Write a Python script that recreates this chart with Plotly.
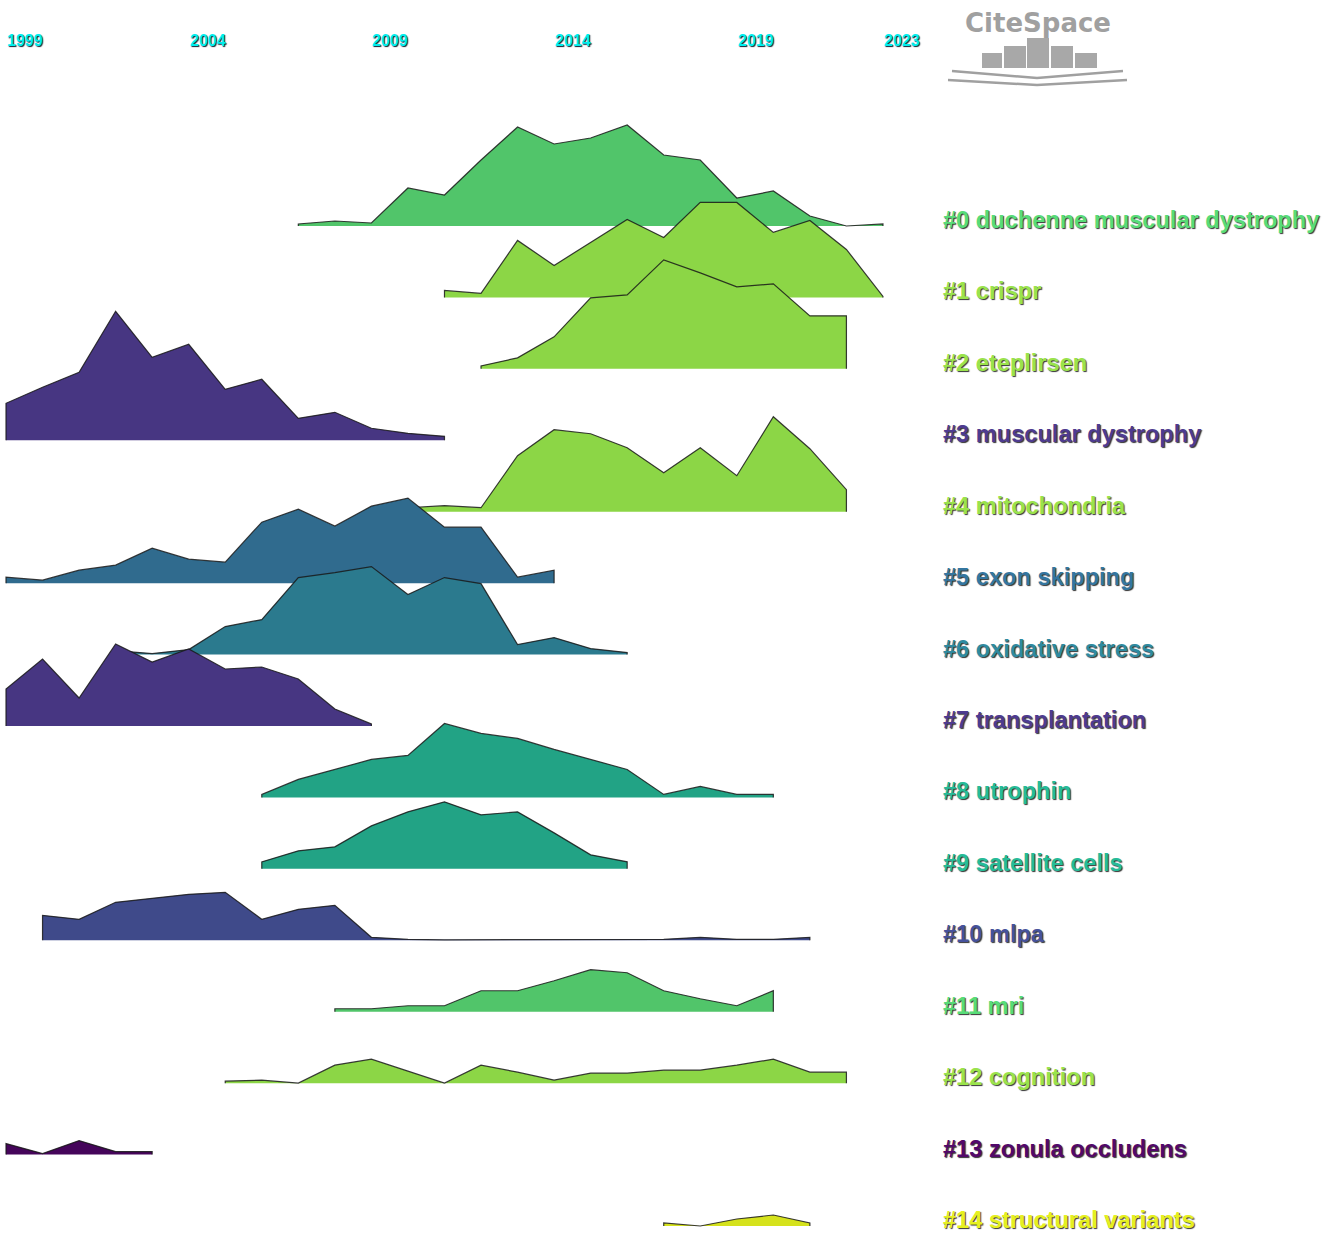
import plotly.graph_objects as go

W, H = 1332, 1235

# cluster labels (CiteSpace timeline view)
labels = ["#0 duchenne muscular dystrophy", "#1 crispr", "#2 eteplirsen",
          "#3 muscular dystrophy", "#4 mitochondria", "#5 exon skipping",
          "#6 oxidative stress", "#7 transplantation", "#8 utrophin",
          "#9 satellite cells", "#10 mlpa", "#11 mri", "#12 cognition",
          "#13 zonula occludens", "#14 structural variants"]
colors = ["#51c56a", "#8cd646", "#8cd646", "#473682", "#8cd646", "#306b8e",
          "#2b7a8e", "#473682", "#22a385", "#22a385", "#3f4a8a", "#51c56a",
          "#8cd646", "#45055a", "#d5e21c"]
label_colors = ["#58dc78", "#9ae34c", "#9ae34c", "#4e3b90", "#9ae34c", "#3476a0",
                "#2f8aa0", "#4e3b90", "#26bb98", "#26bb98", "#46529c", "#58dc78",
                "#9ae34c", "#52086a", "#e6f020"]

# first year of each ridge, then yearly values
start_years = [2007, 2011, 2012, 1999, 2010, 1999, 2002, 1999, 2006, 2006,
               2000, 2008, 2005, 1999, 2017]
v0 = [2, 5, 3, 38, 31, 66, 99, 82, 88, 101, 71, 66, 28, 35, 10, 0, 2]
v1 = [7, 4, 57, 32, 55, 78, 60, 95, 95, 65, 77, 48, 1]
v2 = [3, 11, 32, 71, 74, 109, 96, 82, 85, 53, 53]
v3 = [37, 53, 68, 129, 83, 96, 51, 61, 22, 28, 12, 7, 4]
v4 = [4, 6, 4, 56, 82, 78, 64, 39, 64, 36, 95, 63, 22]
v5 = [6, 3, 13, 18, 35, 24, 21, 61, 74, 57, 77, 85, 56, 56, 6, 13]
v6 = [4, 1, 5, 28, 35, 77, 82, 88, 60, 77, 71, 10, 17, 6, 2]
v7 = [37, 67, 28, 82, 64, 77, 57, 59, 47, 17, 2]
v8 = [3, 18, 28, 38, 42, 74, 64, 59, 48, 38, 28, 3, 11, 3, 3]
v9 = [7, 18, 22, 43, 57, 67, 54, 57, 36, 14, 7]
v10 = [25, 21, 38, 42, 46, 48, 21, 31, 35, 3, 1, 0.5, 0.5, 0.5, 0.5, 0.5, 0.5,
       1, 3, 1, 1, 3]
v11 = [3, 3, 6, 6, 21, 21, 31, 42, 39, 21, 13, 6, 21]
v12 = [2, 3, 0, 18, 24, 12, 0, 18, 11, 3, 10, 10, 13, 13, 18, 24, 11, 11]
v13 = [11, 1, 14, 3, 3]
v14 = [3, 0, 7, 11, 3]
values = [v0, v1, v2, v3, v4, v5, v6, v7, v8, v9, v10, v11, v12, v13, v14]

tick_years = [1999, 2004, 2009, 2014, 2019, 2023]

row_gap = 71.43
px_per_year = 36.54
x0 = 1999 - 6 / px_per_year   # year at left edge of the figure
top0 = 226                    # pixel of first baseline


def px_x(p):
    return x0 + p / px_per_year


def px_y(p):
    return top0 - p


def pap_x(p):
    return p / W


def pap_y(p):
    return 1 - p / H


fig = go.Figure()

for i, (lab, col, lcol, sy, vals) in enumerate(zip(labels, colors, label_colors,
                                                   start_years, values)):
    base = -i * row_gap
    yrs = list(range(sy, sy + len(vals)))
    xs = [yrs[0]] + yrs + [yrs[-1]]
    ys = [base] + [base + v for v in vals] + [base]
    fig.add_trace(go.Scatter(x=xs, y=ys, mode="lines", fill="toself",
                             fillcolor=col, line=dict(width=0),
                             hoverinfo="skip", showlegend=False))
    fig.add_trace(go.Scatter(x=xs, y=ys, mode="lines",
                             line=dict(color="rgba(25,25,25,0.85)", width=1.2),
                             name=lab, showlegend=False))
    fig.add_annotation(x=px_x(942), y=base + 6, text="<b>%s</b>" % lab,
                       xanchor="left", yanchor="middle", showarrow=False,
                       borderpad=0,
                       font=dict(family="Liberation Sans", size=23.6, color=lcol,
                                 shadow="1px 1px 1px #333"))

for yr in tick_years:
    fig.add_annotation(x=yr, y=px_y(40), text="<b>%d</b>" % yr,
                       xanchor="left", yanchor="middle", showarrow=False,
                       borderpad=0,
                       font=dict(family="Liberation Sans", size=16, color="#00eeee",
                                 shadow="1px 1px 1px #123"))

# CiteSpace logo
fig.add_annotation(x=pap_x(1038), y=pap_y(23), xref="paper", yref="paper",
                   text="<b>CiteSpace</b>", showarrow=False, xanchor="center",
                   yanchor="middle",
                   font=dict(family="DejaVu Sans", size=26, color="#a0a0a0"))
shapes = []
for bx0, bx1, btop in [(982, 1002, 53), (1004, 1026, 46), (1027, 1049, 38),
                       (1051, 1073, 46), (1075, 1097, 53)]:
    shapes.append(dict(type="rect", xref="paper", yref="paper",
                       x0=pap_x(bx0), x1=pap_x(bx1), y0=pap_y(68), y1=pap_y(btop),
                       fillcolor="#a8a8a8", line=dict(width=0)))
for (ax, ay), (mx, my), (bx, by) in [((952, 71), (1037, 78), (1123, 71)),
                                      ((948, 80), (1037, 85), (1127, 80))]:
    shapes.append(dict(type="path", xref="paper", yref="paper",
                       path="M %f,%f L %f,%f L %f,%f" % (pap_x(ax), pap_y(ay),
                                                         pap_x(mx), pap_y(my),
                                                         pap_x(bx), pap_y(by)),
                       line=dict(color="#a0a0a0", width=2.5)))

fig.update_layout(
    width=W, height=H,
    margin=dict(l=0, r=0, t=0, b=0),
    paper_bgcolor="white", plot_bgcolor="white",
    xaxis=dict(range=[x0, x0 + W / px_per_year], visible=False, fixedrange=True),
    yaxis=dict(range=[top0 - H, top0], visible=False, fixedrange=True),
    shapes=shapes,
    showlegend=False,
)

# drop the default 8px body margin so the figure fills the window
fig.write_html("out.html", config={"displayModeBar": False},
               post_script="document.body.style.margin='0';"
                           "document.body.style.overflow='hidden';")
